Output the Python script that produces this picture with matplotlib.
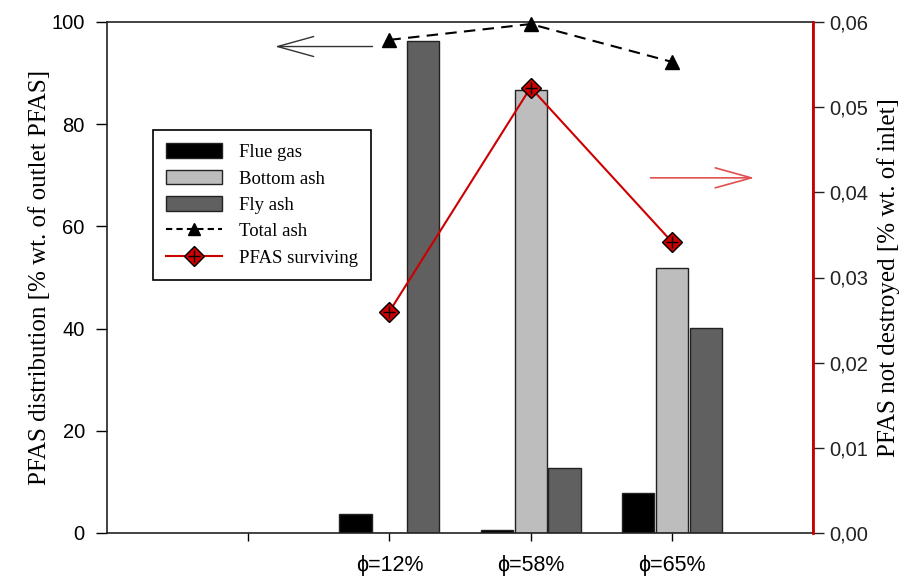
import matplotlib.pyplot as plt
import numpy as np
from matplotlib.lines import Line2D
from matplotlib.patches import Patch

# categories (first slot is an empty tick)
labels = ['', 'ϕ=12%', 'ϕ=58%', 'ϕ=65%']
flue_gas = [0, 3.7, 0.5, 7.8]
bottom_ash = [0, 0, 86.7, 51.9]
fly_ash = [0, 96.3, 12.7, 40.1]
total_ash = [96.5, 99.6, 92.2]
pfas_surviving = [0.026, 0.0523, 0.0342]

serif = 'Liberation Serif'
sans = 'Liberation Sans'
red = '#cc0000'

fig = plt.figure(figsize=(9.19, 5.79), dpi=100)
ax = fig.add_axes([107/919, 1-533/579, 706/919, 511/579])

x = np.arange(len(labels))
w = 0.227
off = 0.24
ax.bar(x[1:] - off, flue_gas[1:], w, color='black', edgecolor='#222222', lw=1, zorder=2)
ax.bar(x[1:], bottom_ash[1:], w, color='#bdbdbd', edgecolor='#222222', lw=1, zorder=2)
ax.bar(x[1:] + off, fly_ash[1:], w, color='#606060', edgecolor='#222222', lw=1, zorder=2)
ax.plot(x[1:], total_ash, color='black', ls=(0, (5.5, 3.5)), lw=1.5, marker='^',
        ms=10, mfc='black', mec='black', zorder=5, clip_on=False)

ax.set_xlim(-1, 4)
ax.set_ylim(0, 100)
ax.set_xticks(x)
ax.set_xticklabels(labels, fontsize=15.5, fontname=sans)
ax.set_yticks(np.arange(0, 101, 20))
ax.tick_params(axis='y', labelsize=14.5, direction='out', length=8, width=1, pad=8)
ax.tick_params(axis='x', direction='out', length=6, width=1, pad=10)
for t in ax.get_yticklabels():
    t.set_fontname(sans)
ax.set_ylabel('PFAS distribution [% wt. of outlet PFAS]', fontsize=18,
              fontname=serif)
ax.yaxis.set_label_coords(-0.08, 0.5)
for s in ax.spines.values():
    s.set_linewidth(1.2)
    s.set_color('#222222')

ax2 = ax.twinx()
ax2.set_ylim(0, 0.06)
ax2.set_yticks(np.arange(0, 0.061, 0.01))
ax2.set_yticklabels([f'{v:.2f}'.replace('.', ',') for v in np.arange(0, 0.061, 0.01)],
                    fontsize=14.5, fontname=sans)
ax2.tick_params(axis='y', direction='out', length=8, width=1, colors='#222222', pad=4)
ax2.spines['right'].set_color(red)
ax2.spines['right'].set_linewidth(2)
ax2.spines['top'].set_visible(False)
ax2.spines['left'].set_visible(False)
ax2.spines['bottom'].set_visible(False)
ax2.set_ylabel('PFAS not destroyed [% wt. of inlet]', fontsize=18,
               fontname=serif)
ax2.yaxis.set_label_coords(1.09, 0.5)
ax2.plot(x[1:], pfas_surviving, color=red, lw=1.5, marker='D', ms=10,
         mfc=red, mec='black', mew=1, zorder=5)
ax2.plot(x[1:], pfas_surviving, ls='none', marker='+', ms=9, mec='black', mew=1, zorder=6)

# direction arrows pointing to each axis
ax.annotate('', xy=(0.234, 0.952), xytext=(0.380, 0.952), xycoords='axes fraction',
            arrowprops=dict(arrowstyle='->,head_length=1.3,head_width=0.36',
                            mutation_scale=20, color='#333333', lw=1))
ax.annotate('', xy=(0.921, 0.695), xytext=(0.766, 0.695), xycoords='axes fraction',
            arrowprops=dict(arrowstyle='->,head_length=1.3,head_width=0.36',
                            mutation_scale=20, color='#e05050', lw=1.2))

handles = [
    Patch(facecolor='black', edgecolor='#222222'),
    Patch(facecolor='#bdbdbd', edgecolor='#222222'),
    Patch(facecolor='#606060', edgecolor='#222222'),
    Line2D([], [], color='black', ls=(0, (3, 2)), lw=1.5, marker='^', ms=9, mfc='black'),
    (Line2D([], [], color=red, lw=1.5, marker='D', ms=10, mfc=red, mec='black'),
     Line2D([], [], ls='none', marker='+', ms=9, mec='black')),
]
names = ['Flue gas', 'Bottom ash', 'Fly ash', 'Total ash', 'PFAS surviving']
leg = ax2.legend(handles, names, loc='upper left', bbox_to_anchor=(153/919, 1-130/579),
                 bbox_transform=fig.transFigure, prop={'family': serif, 'size': 13.5},
                 frameon=True, fancybox=False, edgecolor='black', framealpha=1,
                 handlelength=3.0, handleheight=0.85, labelspacing=0.45,
                 borderpad=0.7, handletextpad=0.9, borderaxespad=0)
leg.get_frame().set_linewidth(1.2)

fig.savefig('out.png', dpi=100)
